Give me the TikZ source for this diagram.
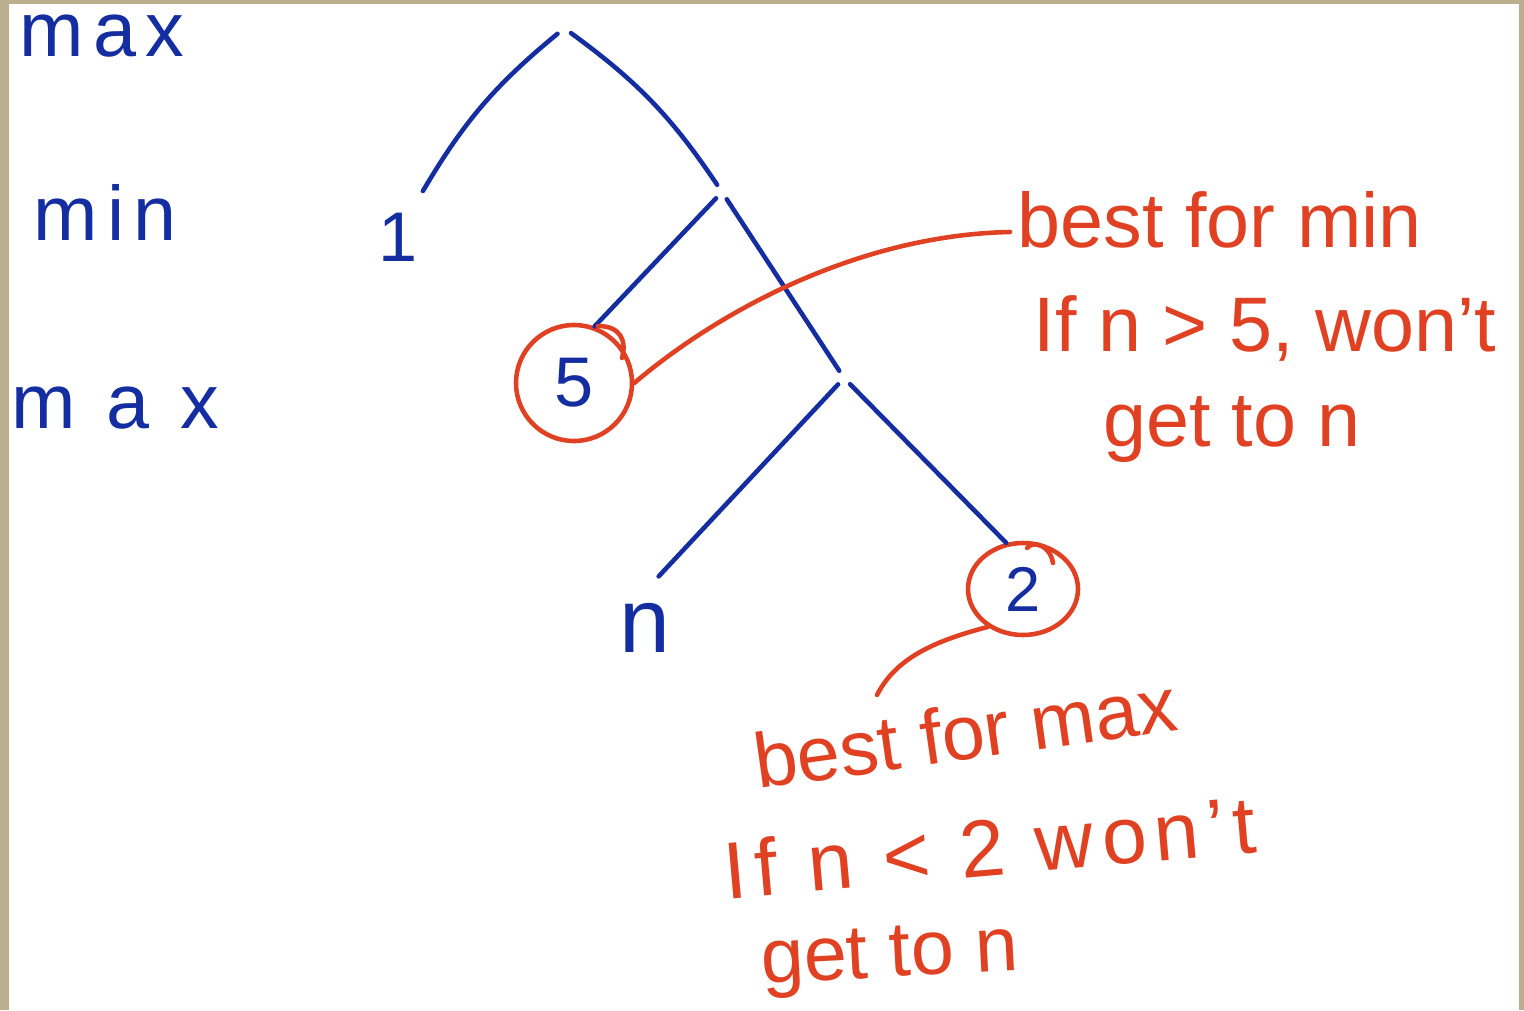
\documentclass[tikz,border=0pt]{standalone}
\usepackage{fontspec}
\setmainfont{Liberation Sans}
\usetikzlibrary{shapes.geometric}
\definecolor{penblue}{RGB}{20,45,160}
\definecolor{penred}{RGB}{225,65,35}
\definecolor{paperframe}{RGB}{187,174,140}
\tikzset{
  blueline/.style={penblue, line width=1.3pt, line cap=round},
  redline/.style={penred, line width=1.3pt, line cap=round},
  level/.style={penblue, font=\fontsize{22}{24}\selectfont\addfontfeature{LetterSpace=12}},
  note/.style={penred, font=\fontsize{22}{24}\selectfont, inner sep=2pt},
  branch/.style={circle, inner sep=0pt, minimum size=0.16cm},
}
\begin{document}
\begin{tikzpicture}
\useasboundingbox (0,0) rectangle (15.24,-10.10);
\fill[paperframe] (0,0) rectangle (15.24,-10.10);
\fill[white] (0.09,-0.04) rectangle (15.19,-10.10);

\node[level] (lmax1) at (1.02,-0.36) {max};
\node[level] (lmin) at (1.05,-2.12) {min};
\node[level, font=\fontsize{22}{24}\selectfont\addfontfeature{LetterSpace=40}] (lmax2) at (1.15,-4.08) {max};

\node[branch] (root) at (5.64,-0.28) {};
\node[branch] (mintwo) at (7.22,-1.92) {};
\node[branch] (maxtwo) at (8.44,-3.78) {};
\node[penblue, font=\fontsize{20}{22}\selectfont, inner sep=6pt] (one) at (3.98,-2.37) {1};
\node[penblue, font=\fontsize{26}{28}\selectfont] (leafn) at (6.45,-6.28) {n};
\node[circle, draw=penred, line width=1.3pt, minimum size=1.16cm, text=penblue,
  font=\fontsize{20}{22}\selectfont] (five) at (5.74,-3.83) {5};
\node[ellipse, draw=penred, line width=1.3pt, minimum width=1.10cm, minimum height=0.92cm,
  inner sep=0pt, text=penblue, font=\fontsize{18}{20}\selectfont] (two) at (10.23,-5.89) {2};

\draw[blueline] (root) to[bend right=10] (one);
\draw[blueline] (root) to[bend left=10] (mintwo);
\draw[blueline] (mintwo) -- (five.70);
\draw[blueline] (mintwo) -- (maxtwo);
\draw[blueline, shorten >=0.2cm] (maxtwo) -- (leafn.north);
\draw[blueline] (maxtwo) -- (two.110);

\draw[redline] (5.98,-3.26) .. controls (6.20,-3.26) and (6.27,-3.40) .. (6.22,-3.58);
\draw[redline] (10.27,-5.48) .. controls (10.33,-5.40) and (10.50,-5.45) .. (10.53,-5.63);

\node[note, anchor=west] (notemina) at (10.10,-2.20) {best for min};
\node[note] (noteminb) at (12.65,-3.28) {If n > 5, won't};
\node[note] (noteminc) at (12.32,-4.30) {get to n};

\node[note, rotate=8] (notemaxa) at (9.65,-7.32) {best for max};
\node[note, rotate=5, font=\fontsize{23}{25}\selectfont\addfontfeature{LetterSpace=10}] (notemaxb) at (9.90,-8.47) {If n < 2 won't};
\node[note, rotate=3] (notemaxc) at (8.90,-9.60) {get to n};
\coordinate (tail) at (8.77,-6.95);

\draw[redline] (five.east) .. controls (7.20,-3.10) and (8.60,-2.35) .. ([yshift=-0.12cm]notemina.west);
\draw[redline] (two.227) .. controls (9.30,-6.42) and (8.95,-6.60) .. (tail);
\end{tikzpicture}
\end{document}
